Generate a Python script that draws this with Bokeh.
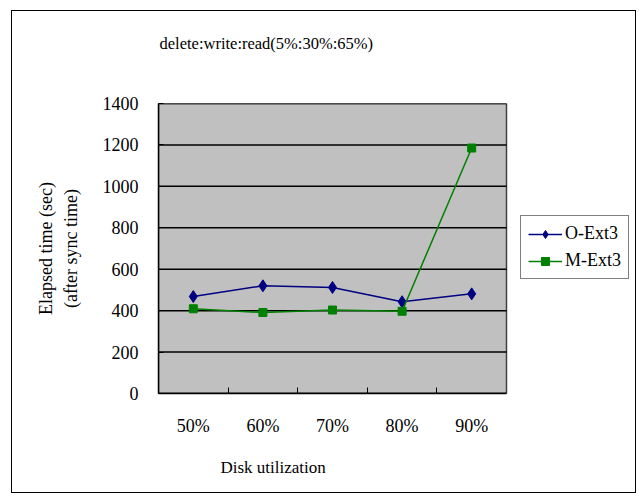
from bokeh.plotting import figure
from bokeh.models import (Range1d, FixedTicker, Legend, LegendItem, LinearAxis,
                          Title)
from bokeh.embed import file_html
from bokeh.resources import INLINE

categories = ["50%", "60%", "70%", "80%", "90%"]
o_ext3 = [468, 520, 512, 443, 481]
m_ext3 = [409, 391, 403, 397, 1185]
y_ticks = [0, 200, 400, 600, 800, 1000, 1200, 1400]
title_text = "delete:write:read(5%:30%:65%)"
x_label = "Disk utilization"

FONT = "Liberation Serif"
NBSP = "\u00a0"

n = len(categories)
xs = [i + 0.5 for i in range(n)]
y_max = y_ticks[-1]

# frame: plot area is 348 px wide (n categories); frame continues to the right
# so that the legend can sit beside the plot area
FRAME_LEFT, AREA_W, FRAME_W = 146, 348, 473
p = figure(width=625, height=483, output_backend="svg", toolbar_location=None,
           x_range=Range1d(0, n * FRAME_W / AREA_W), y_range=Range1d(0, y_max),
           min_border_left=FRAME_LEFT, min_border_right=6, min_border_top=92,
           min_border_bottom=101, margin=(10, 0, 0, 11),
           styles={"border": "1px solid black"}, title=None)
p.background_fill_color = "white"
p.border_fill_color = "white"
p.outline_line_color = None
p.xgrid.grid_line_color = None
p.ygrid.grid_line_color = None

# plot area (gray) with its frame
p.quad(left=0, right=n, bottom=0, top=y_max, fill_color="#C0C0C0",
       line_color="#404040", line_width=1.5)
# horizontal grid lines
p.segment(x0=[0] * len(y_ticks), x1=[n] * len(y_ticks), y0=y_ticks, y1=y_ticks,
          line_color="black", line_width=1.5)

# axes
p.xaxis.bounds = (0, n)
p.xaxis.ticker = FixedTicker(ticks=xs, minor_ticks=list(range(1, n)))
p.xaxis.major_label_overrides = {x: c for x, c in zip(xs, categories)}
p.xaxis.major_tick_line_color = None
p.xaxis.minor_tick_line_color = "black"
p.xaxis.minor_tick_in = 6
p.xaxis.minor_tick_out = 0
p.xaxis.axis_line_color = "black"
p.xaxis.axis_line_width = 1.5
p.xaxis.major_label_text_font = FONT
p.xaxis.major_label_text_font_size = "18px"
p.xaxis.major_label_text_color = "black"
p.xaxis.major_label_standoff = 16

p.yaxis.ticker = FixedTicker(ticks=y_ticks)
p.yaxis.minor_tick_line_color = None
p.yaxis.major_tick_in = 5
p.yaxis.major_tick_out = 0
p.yaxis.major_tick_line_color = "black"
p.yaxis.axis_line_color = "black"
p.yaxis.axis_line_width = 1.5
p.yaxis.major_label_text_font = FONT
p.yaxis.major_label_text_font_size = "18px"
p.yaxis.major_label_text_color = "black"
p.yaxis.major_label_standoff = 20
p.yaxis.axis_label = "(after sync time)"
p.yaxis.axis_label_text_font = FONT
p.yaxis.axis_label_text_font_size = "18px"
p.yaxis.axis_label_text_font_style = "normal"
p.yaxis.axis_label_text_color = "black"
p.yaxis.axis_label_standoff = 19

outer_y = LinearAxis(axis_label="Elapsed time (sec)", axis_line_color=None,
                     major_tick_line_color=None, minor_tick_line_color=None,
                     major_label_text_font_size="0px",
                     axis_label_text_font=FONT, axis_label_text_font_size="18px",
                     axis_label_text_font_style="normal",
                     axis_label_text_color="black", axis_label_standoff=2,
                     ticker=FixedTicker(ticks=[]))
p.add_layout(outer_y, "left")

# data
r1l = p.line(xs, o_ext3, line_color="#000080", line_width=1.5)
r1m = p.scatter(xs, o_ext3, marker="diamond", size=12, fill_color="#000080",
                line_color="#000080")
r2l = p.line(xs, m_ext3, line_color="#008000", line_width=1.5)
r2m = p.scatter(xs, m_ext3, marker="square", size=8, fill_color="#008000",
                line_color="#008000")

legend = Legend(items=[LegendItem(label="O-Ext3", renderers=[r1l, r1m]),
                       LegendItem(label="M-Ext3", renderers=[r2l, r2m])],
                location=(362, 114), orientation="vertical")
legend.label_text_font = FONT
legend.label_text_font_size = "18px"
legend.label_text_color = "black"
legend.border_line_color = "black"
legend.border_line_width = 1
legend.background_fill_color = "white"
legend.glyph_width = 34
legend.label_standoff = 3
legend.padding = 7
legend.spacing = 6
legend.margin = 0
p.add_layout(legend)

# chart title (blank lines below it lift it away from the plot area)
p.add_layout(Title(text=title_text + "\n" + NBSP + "\n" + NBSP, text_font=FONT,
                   text_font_size="16.5px", text_font_style="normal",
                   text_color="black", align="left", offset=1, standoff=26,
                   vertical_align="bottom"),
             "above")
# x axis title, placed under the category labels
p.add_layout(Title(text=NBSP + "\n" + x_label, text_font=FONT,
                   text_font_size="17px", text_font_style="normal",
                   text_color="black", align="left", offset=62, standoff=0,
                   vertical_align="top"),
             "below")

open("out.html", "w").write(file_html(p, INLINE))
